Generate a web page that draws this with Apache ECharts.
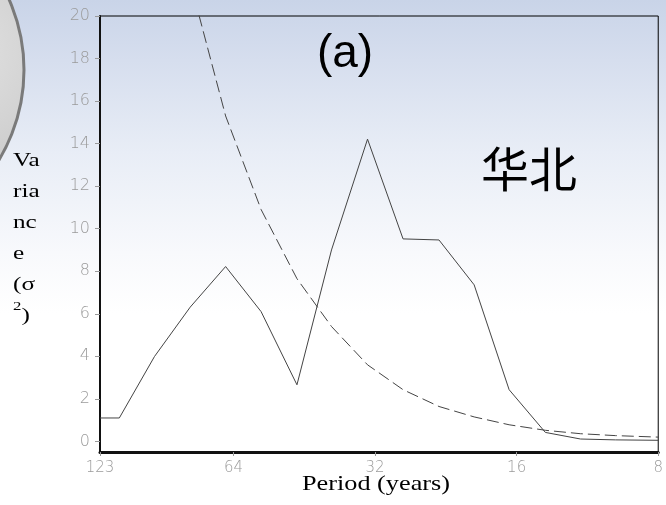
<!DOCTYPE html>
<html>
<head>
<meta charset="utf-8">
<script src="https://cdn.jsdelivr.net/npm/echarts@6/dist/echarts.min.js"></script>
<style>
html,body{margin:0;padding:0;}
#main{width:666px;height:505px;}
</style>
</head>
<body>
<div id="main"></div>
<script>
// period (years), read at each vertex of the curves
var periods = [123, 111.9, 94.2, 79.1, 66.5, 55.9, 46.9, 39.6, 33.2, 27.9, 23.4, 19.7, 16.6, 13.9, 11.7, 9.86, 8];
var variance = [1.10, 1.10, 3.99, 6.31, 8.22, 6.10, 2.66, 9.0, 14.21, 9.52, 9.47, 7.36, 2.43, 0.42, 0.11, 0.07, 0.05];
var redNoise = [null, null, null, 21.6, 15.3, 10.9, 7.65, 5.4, 3.6, 2.43, 1.64, 1.15, 0.78, 0.52, 0.36, 0.27, 0.2];
var yTicks = [0, 2, 4, 6, 8, 10, 12, 14, 16, 18, 20];

var tickFont = '"DejaVu Sans", sans-serif';
var serif = '"Liberation Serif", "Times New Roman", serif';

function pairs(xs, ys) {
	var out = [];
	for (var i = 0; i < xs.length; i++) {
		out.push([xs[i], ys[i]]);
	}
	return out;
}

var chart = echarts.init(document.getElementById('main'));

var option = {
	animation: false,
	grid: {
		left: 100,
		right: 6,
		top: 16,
		bottom: 53,
		show: true,
		borderColor: '#000',
		borderWidth: 1,
		backgroundColor: 'transparent'
	},
	xAxis: {
		type: 'log',
		logBase: 2,
		min: 8,
		max: 123,
		inverse: true,
		axisLine: { show: true, onZero: false, lineStyle: { color: '#111', width: 3 } },
		axisTick: { show: true, length: 4, lineStyle: { color: '#999' } },
		axisLabel: {
			margin: 9,
			color: '#9a9a9a',
			fontSize: 15,
			fontFamily: tickFont,
			fontWeight: 200
		},
		splitLine: { show: false },
		minorTick: { show: false }
	},
	yAxis: {
		type: 'value',
		min: -0.5,
		max: 20,
		axisLine: { show: true, lineStyle: { color: '#111', width: 2 } },
		axisTick: { show: true, length: 5, lineStyle: { color: '#999' }, customValues: yTicks },
		axisLabel: {
			margin: 10,
			color: '#9a9a9a',
			fontSize: 16,
			fontFamily: tickFont,
			fontWeight: 200,
			customValues: yTicks
		},
		splitLine: { show: false }
	},
	graphic: [
		{
			type: 'rect',
			z: -100,
			silent: true,
			shape: { x: 0, y: 0, width: 666, height: 505 },
			style: {
				fill: new echarts.graphic.LinearGradient(0, 0, 0, 1, [
					{ offset: 0, color: '#c9d4e8' },
					{ offset: 0.12, color: '#d6deee' },
					{ offset: 0.3, color: '#e8edf6' },
					{ offset: 0.5, color: '#f8f9fc' },
					{ offset: 0.62, color: '#ffffff' },
					{ offset: 1, color: '#ffffff' }
				])
			}
		},
		{
			type: 'circle',
			z: -90,
			silent: true,
			shape: { cx: -150, cy: 70, r: 174 },
			style: {
				fill: new echarts.graphic.RadialGradient(0.8, 0.45, 0.6, [
					{ offset: 0, color: '#e2e2e2' },
					{ offset: 0.8, color: '#c4c4c4' },
					{ offset: 1, color: '#8a8a8a' }
				]),
				stroke: '#7a7a7a',
				lineWidth: 3
			}
		},
		{
			type: 'text',
			x: 345,
			y: 31,
			style: { text: '(a)', font: '46px "Liberation Sans", Arial, sans-serif', fill: '#000', textAlign: 'center' }
		},
		{
			type: 'text',
			x: 529,
			y: 145,
			style: { text: '华北', font: '48px "Noto Sans CJK SC", sans-serif', fill: '#000', textAlign: 'center' }
		},
		{
			type: 'text',
			x: 13,
			y: 146,
			scaleX: 1.4,
			style: {
				text: 'Va\nria\nnc\ne\n(σ\n{s|2})',
				font: '18px ' + serif,
				lineHeight: 31,
				fill: '#000',
				rich: {
					s: { fontSize: 12, verticalAlign: 'top', fontFamily: serif }
				}
			}
		},
		{
			type: 'text',
			x: 376,
			y: 474,
			scaleX: 1.25,
			style: {
				text: 'Period (years)',
				font: '21px ' + serif,
				fill: '#000',
				textAlign: 'center'
			}
		}
	],
	series: [
		{
			name: 'variance',
			type: 'line',
			data: pairs(periods, variance),
			symbol: 'none',
			clip: true,
			lineStyle: { color: '#444', width: 1 }
		},
		{
			name: 'red noise',
			type: 'line',
			data: pairs(periods, redNoise),
			symbol: 'none',
			clip: true,
			lineStyle: { color: '#444', width: 1, type: [12, 5] }
		}
	]
};

chart.setOption(option);
</script>
</body>
</html>
